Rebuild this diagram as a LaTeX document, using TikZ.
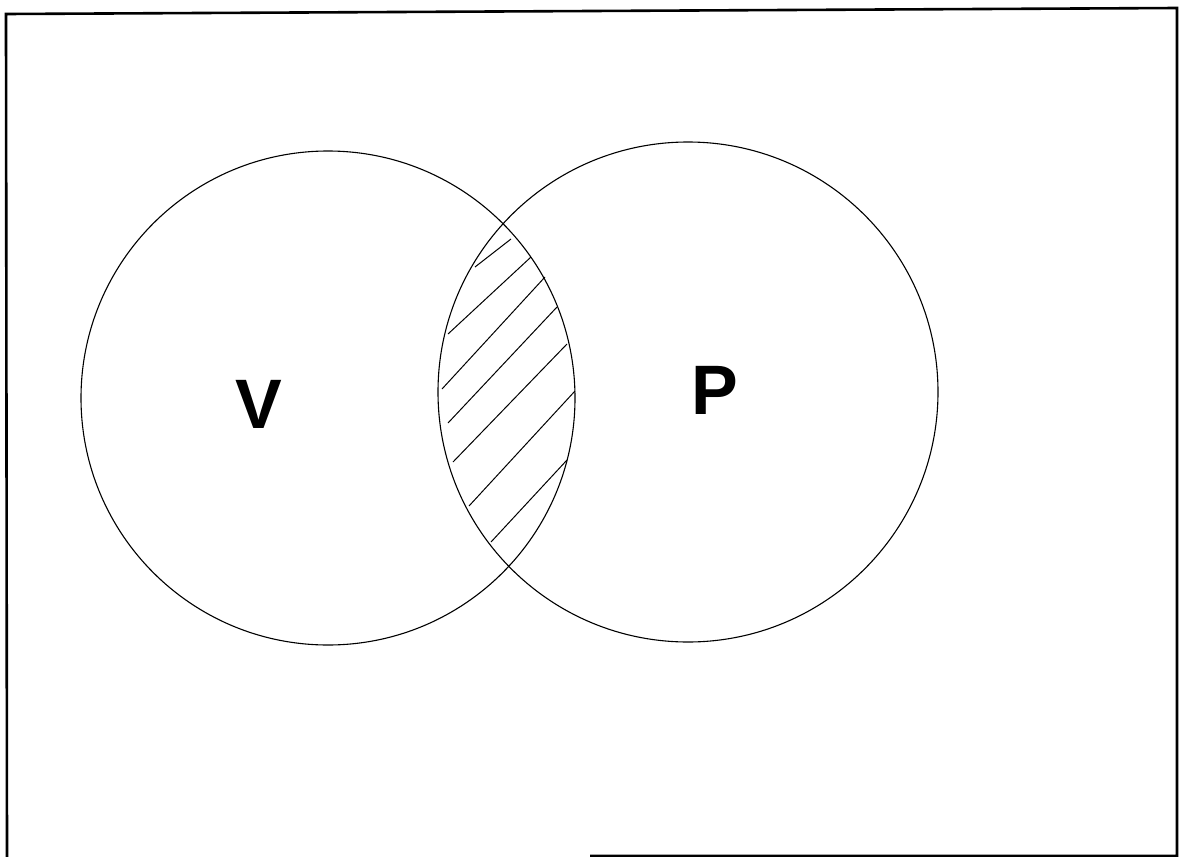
\documentclass[tikz,border=0pt]{standalone}
\usepackage{fontspec}
\setmainfont{Liberation Sans}
\begin{document}
\begin{tikzpicture}[x=1pt,y=-1pt,
  frame/.style={line width=2.6pt},
  setcircle/.style={line width=1.1pt},
  hatch/.style={line width=1.0pt},
  setlabel/.style={font=\fontsize{70}{70}\selectfont\bfseries, inner sep=0pt}]
\useasboundingbox (0,0) rectangle (1184,857);
% frame
\draw[frame] (7,857) -- (6,14) -- (1177,8) -- (1177,856) -- (590,856);
% circles
\draw[setcircle] (328,398) circle[radius=247];
\draw[setcircle] (688,392) circle[radius=250];
% hatching
\draw[hatch] (511,239) -- (475,267);
\draw[hatch] (531,257) -- (448,334);
\draw[hatch] (545,277) -- (442,389);
\draw[hatch] (557,307) -- (448,423);
\draw[hatch] (567,344) -- (453,462);
\draw[hatch] (575,391) -- (469,506);
\draw[hatch] (567,460) -- (491,542);
% labels
\node[setlabel] (V) at (259,404) {V};
\node[setlabel] (P) at (715,390) {P};
\end{tikzpicture}
\end{document}
